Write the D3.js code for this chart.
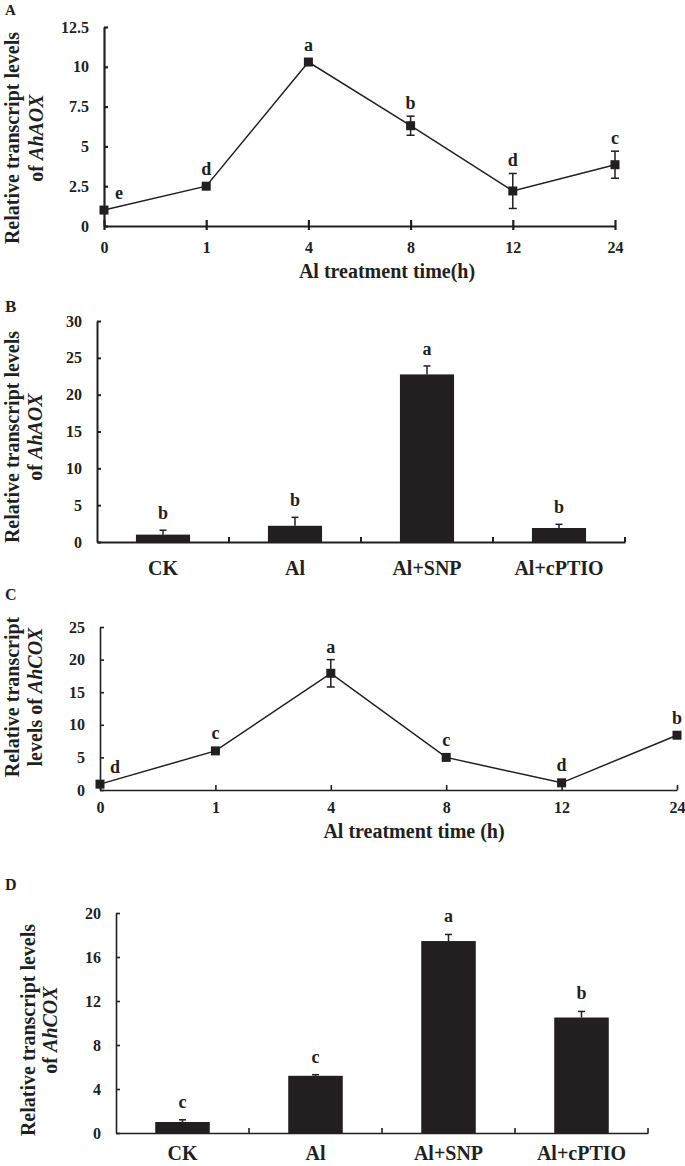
<!DOCTYPE html>
<html>
<head>
<meta charset="utf-8">
<script src="https://cdn.jsdelivr.net/npm/d3@7"></script>
<style>
  html, body { margin: 0; padding: 0; background: #fff; }
  svg { display: block; font-family: "Liberation Serif", "Times New Roman", serif; font-weight: bold; }
</style>
</head>
<body>
<div id="chart"></div>
<script>
// ---------- data ----------
const timeLabels = ["0", "1", "4", "8", "12", "24"];
const treatments = ["CK", "Al", "Al+SNP", "Al+cPTIO"];

// Panel A: AhAOX time course
const aoxTimeMeans = [1.0, 2.5, 10.3, 6.3, 2.2, 3.85];
const aoxTimeErr = [0.1, 0.1, 0.15, 0.6, 1.1, 0.85];
const aoxTimeLetters = ["e", "d", "a", "b", "d", "c"];
const aoxTimeTicks = [0, 2.5, 5, 7.5, 10, 12.5];

// Panel B: AhAOX treatments
const aoxTreatMeans = [1.0, 2.2, 22.75, 1.9];
const aoxTreatErr = [0.6, 1.15, 1.15, 0.5];
const aoxTreatLetters = ["b", "b", "a", "b"];
const aoxTreatTicks = [0, 5, 10, 15, 20, 25, 30];

// Panel C: AhCOX time course
const coxTimeMeans = [0.9, 6.0, 17.9, 5.0, 1.1, 8.4];
const coxTimeErr = [0.1, 0.2, 2.1, 0.2, 0.1, 0.3];
const coxTimeLetters = ["d", "c", "a", "c", "d", "b"];
const coxTimeTicks = [0, 5, 10, 15, 20, 25];

// Panel D: AhCOX treatments
const coxTreatMeans = [1.0, 5.2, 17.45, 10.5];
const coxTreatErr = [0.2, 0.1, 0.6, 0.55];
const coxTreatLetters = ["c", "c", "a", "b"];
const coxTreatTicks = [0, 4, 8, 12, 16, 20];

// ---------- drawing ----------
const INK = "#231f20";
const svg = d3.select("#chart").append("svg").attr("width", 685).attr("height", 1166);

function styleAxis(g, width) {
  g.selectAll("path.domain").attr("stroke", INK).attr("stroke-width", width);
  g.selectAll(".tick line").attr("stroke", INK).attr("stroke-width", width);
  g.selectAll(".tick text").attr("fill", INK)
    .attr("font-family", "Liberation Serif, Times New Roman, serif")
    .attr("font-weight", "bold").attr("font-size", 16);
}

function yLabel(lines, cy, baselines) {
  lines.forEach((parts, i) => {
    const t = svg.append("text")
      .attr("transform", `translate(${baselines[i]},${cy}) rotate(-90)`)
      .attr("text-anchor", "middle").attr("font-size", 20).attr("fill", INK);
    parts.forEach(p => t.append("tspan").attr("font-style", p.it ? "italic" : "normal").text(p.t));
  });
}

function panelLetter(txt, x, y, size) {
  svg.append("text").attr("x", x).attr("y", y).attr("font-size", size).attr("fill", INK).text(txt);
}

function linePanel(cfg) {
  const x = d3.scalePoint(timeLabels, cfg.xr);
  const y = d3.scaleLinear([0, cfg.ymax], cfg.yr);
  const g = svg.append("g");
  const ya = g.append("g").attr("transform", `translate(${cfg.xr[0]},0)`)
    .call(d3.axisLeft(y).tickValues(cfg.ticks).tickFormat(d => String(d))
      .tickSizeInner(-4).tickSizeOuter(0).tickPadding(15));
  styleAxis(ya, cfg.aw);
  const xa = g.append("g").attr("transform", `translate(0,${cfg.yr[0]})`)
    .call(d3.axisBottom(x).tickSizeInner(cfg.down).tickSizeOuter(0).tickPadding(cfg.xpad));
  xa.selectAll(".tick line").attr("y1", -cfg.up);
  styleAxis(xa, cfg.aw);
  const pts = timeLabels.map((k, i) => ({ k, m: cfg.means[i], e: cfg.errs[i], l: cfg.letters[i] }));
  g.append("path").datum(pts)
    .attr("d", d3.line().x(d => x(d.k)).y(d => y(d.m)))
    .attr("fill", "none").attr("stroke", INK).attr("stroke-width", 1.5);
  const eb = g.selectAll("g.eb").data(pts).join("g").attr("class", "eb");
  eb.append("line").attr("x1", d => x(d.k)).attr("x2", d => x(d.k))
    .attr("y1", d => y(d.m - d.e)).attr("y2", d => y(d.m + d.e))
    .attr("stroke", INK).attr("stroke-width", 1.5);
  eb.append("line").attr("x1", d => x(d.k) - 4).attr("x2", d => x(d.k) + 4)
    .attr("y1", d => y(d.m + d.e)).attr("y2", d => y(d.m + d.e))
    .attr("stroke", INK).attr("stroke-width", 1.5);
  eb.append("line").attr("x1", d => x(d.k) - 4).attr("x2", d => x(d.k) + 4)
    .attr("y1", d => y(d.m - d.e)).attr("y2", d => y(d.m - d.e))
    .attr("stroke", INK).attr("stroke-width", 1.5);
  g.selectAll("rect.mk").data(pts).join("rect").attr("class", "mk")
    .attr("x", d => x(d.k) - 4.5).attr("y", d => y(d.m) - 4.5)
    .attr("width", 9).attr("height", 9).attr("fill", INK);
  g.selectAll("text.lt").data(pts).join("text").attr("class", "lt")
    .attr("text-anchor", "middle").attr("font-size", 18).attr("fill", INK)
    .attr("x", (d, i) => i === 0 ? x(d.k) + 15 : x(d.k))
    .attr("y", (d, i) => i === 0 ? y(d.m) - 11 : Math.min(y(d.m) - 4.5, y(d.m + d.e)) - 7)
    .text(d => d.l);
  svg.append("text").attr("x", cfg.titleX).attr("y", cfg.titleY).attr("text-anchor", "middle")
    .attr("font-size", 20).attr("fill", INK).text(cfg.title);
}

function barPanel(cfg) {
  const x = d3.scaleBand(treatments, cfg.xr).paddingInner(0.59).paddingOuter(0.295);
  const y = d3.scaleLinear([0, cfg.ymax], cfg.yr);
  const g = svg.append("g");
  const ya = g.append("g").attr("transform", `translate(${cfg.xr[0]},0)`)
    .call(d3.axisLeft(y).tickValues(cfg.ticks).tickFormat(d => String(d))
      .tickSizeInner(-4).tickSizeOuter(0).tickPadding(15));
  styleAxis(ya, cfg.aw);
  const xa = g.append("g").attr("transform", `translate(0,${cfg.yr[0]})`)
    .call(d3.axisBottom(x).tickSize(0).tickPadding(cfg.xpad));
  styleAxis(xa, cfg.aw);
  xa.selectAll(".tick text").attr("font-size", 20);
  g.selectAll("line.bt").data(treatments).join("line").attr("class", "bt")
    .attr("x1", d => x(d) + x.bandwidth() / 2 + x.step() / 2)
    .attr("x2", d => x(d) + x.bandwidth() / 2 + x.step() / 2)
    .attr("y1", cfg.yr[0]).attr("y2", cfg.yr[0] - 5)
    .attr("stroke", INK).attr("stroke-width", cfg.aw);
  const rows = treatments.map((k, i) => ({ k, m: cfg.means[i], e: cfg.errs[i], l: cfg.letters[i] }));
  g.selectAll("line.ev").data(rows).join("line").attr("class", "ev")
    .attr("x1", d => x(d.k) + x.bandwidth() / 2).attr("x2", d => x(d.k) + x.bandwidth() / 2)
    .attr("y1", d => y(d.m)).attr("y2", d => y(d.m + d.e))
    .attr("stroke", INK).attr("stroke-width", 1.5);
  g.selectAll("line.ec").data(rows).join("line").attr("class", "ec")
    .attr("x1", d => x(d.k) + x.bandwidth() / 2 - 3.5).attr("x2", d => x(d.k) + x.bandwidth() / 2 + 3.5)
    .attr("y1", d => y(d.m + d.e)).attr("y2", d => y(d.m + d.e))
    .attr("stroke", INK).attr("stroke-width", 1.5);
  g.selectAll("rect.bar").data(rows).join("rect").attr("class", "bar")
    .attr("x", d => x(d.k)).attr("width", x.bandwidth())
    .attr("y", d => y(d.m)).attr("height", d => y(0) - y(d.m)).attr("fill", INK);
  g.selectAll("text.lt").data(rows).join("text").attr("class", "lt")
    .attr("text-anchor", "middle").attr("font-size", 18).attr("fill", INK)
    .attr("x", d => x(d.k) + x.bandwidth() / 2)
    .attr("y", d => y(d.m + d.e) - cfg.gap)
    .text(d => d.l);
}

// Panel A
panelLetter("A", 5, 15, 15);
linePanel({ xr: [104, 615], yr: [226, 27], ymax: 12.5, ticks: aoxTimeTicks, aw: 2.2,
  means: aoxTimeMeans, errs: aoxTimeErr, letters: aoxTimeLetters,
  down: 4, up: 6, xpad: 12, title: "Al treatment time(h)", titleX: 387, titleY: 278 });
yLabel([[{ t: "Relative transcript levels" }], [{ t: "of " }, { t: "AhAOX", it: true }]], 138, [19, 43]);

// Panel B
panelLetter("B", 5, 312, 17);
barPanel({ xr: [97, 625], yr: [542, 321], ymax: 30, ticks: aoxTreatTicks, aw: 2,
  means: aoxTreatMeans, errs: aoxTreatErr, letters: aoxTreatLetters, xpad: 19, gap: 11 });
yLabel([[{ t: "Relative transcript levels" }], [{ t: "of " }, { t: "AhAOX", it: true }]], 437, [19, 42]);

// Panel C
panelLetter("C", 5, 600, 16);
linePanel({ xr: [100, 677], yr: [790, 627], ymax: 25, ticks: coxTimeTicks, aw: 1.6,
  means: coxTimeMeans, errs: coxTimeErr, letters: coxTimeLetters,
  down: 0, up: 5, xpad: 12, title: "Al treatment time (h)", titleX: 414, titleY: 838 });
yLabel([[{ t: "Relative transcript" }], [{ t: "levels of " }, { t: "AhCOX", it: true }]], 697, [19, 42]);

// Panel D
panelLetter("D", 5, 890, 16);
barPanel({ xr: [116, 648], yr: [1133, 913], ymax: 20, ticks: coxTreatTicks, aw: 1.6,
  means: coxTreatMeans, errs: coxTreatErr, letters: coxTreatLetters, xpad: 13, gap: 12 });
yLabel([[{ t: "Relative transcript levels" }], [{ t: "of " }, { t: "AhCOX", it: true }]], 1030, [35, 57]);
</script>
</body>
</html>
